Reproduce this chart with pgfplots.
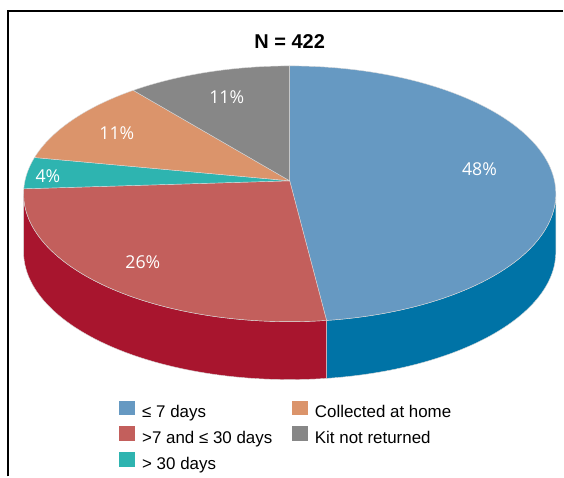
\documentclass[border=0pt]{standalone}
\usepackage{pgfplots}
\pgfplotsset{compat=1.18}
\usepackage{fontspec}
\setmainfont{Liberation Sans}
\newfontfamily\labelfont{Open Sans}
\definecolor{cBlue}{RGB}{102,153,194}
\definecolor{cBlueSide}{RGB}{0,115,166}
\definecolor{cRed}{RGB}{195,95,92}
\definecolor{cRedSide}{RGB}{168,21,46}
\definecolor{cTeal}{RGB}{46,180,176}
\definecolor{cOrange}{RGB}{219,148,107}
\definecolor{cGray}{RGB}{135,135,135}
% perspective map: pie angle (deg, clockwise from back) -> parametric angle on the drawn ellipse
\newcommand\mapT[2]{%
  \pgfmathsetmacro\pU{sin(#1)}%
  \pgfmathsetmacro\pV{cos(#1)}%
  \pgfmathsetmacro\pD{1+0.1016*\pV}%
  \pgfmathsetmacro\pX{265*\pU/\pD}%
  \pgfmathsetmacro\pY{-126.7*\pV/\pD}%
  \pgfmathsetmacro#2{atan2((13-\pY)/128,\pX/266.4)}%
}
\gdef\pieTop{}\gdef\pieSide{}\gdef\cumul{0}
\foreach \val/\col/\scol in {48/cBlue/cBlueSide,26/cRed/cRedSide,4/cTeal/cTeal,11/cOrange/cOrange,11/cGray/cGray}{%
  \pgfmathsetmacro\thA{\cumul*3.6}%
  \pgfmathsetmacro\thB{(\cumul+\val)*3.6}%
  \pgfmathsetmacro\newcumul{\cumul+\val}%
  \xdef\cumul{\newcumul}%
  \mapT{\thA}{\tA}%
  \mapT{\thB}{\tBr}%
  \pgfmathsetmacro\tB{\tBr>\tA ? \tBr-360 : \tBr}%
  \pgfmathsetmacro\xA{290+266.4*cos(\tA)}%
  \pgfmathsetmacro\yA{-194+128*sin(\tA)}%
  \xdef\pieTop{\unexpanded\expandafter{\pieTop}%
    \noexpand\fill[\col,draw=white!85!black,line width=0.3pt,line join=round] (axis cs:290,-181) -- (axis cs:\xA,\yA) arc[start angle=\tA,end angle=\tB,x radius=199.8pt,y radius=96pt] -- cycle;}%
  \pgfmathsetmacro\lo{max(\tB,-180)}%
  \pgfmathsetmacro\hi{min(\tA,0)}%
  \ifdim\lo pt<\hi pt
    \pgfmathsetmacro\xH{290+266.4*cos(\hi)}%
    \pgfmathsetmacro\yH{-194+128*sin(\hi)}%
    \pgfmathsetmacro\xL{290+266.4*cos(\lo)}%
    \pgfmathsetmacro\yL{-252+128*sin(\lo)}%
    \xdef\pieSide{\unexpanded\expandafter{\pieSide}%
      \noexpand\fill[\scol,draw=white!85!black,line width=0.3pt] (axis cs:\xH,\yH) arc[start angle=\hi,end angle=\lo,x radius=199.8pt,y radius=96pt] -- (axis cs:\xL,\yL) arc[start angle=\lo,end angle=\hi,x radius=199.8pt,y radius=96pt] -- cycle;}%
  \fi
}
\begin{document}
\begin{tikzpicture}
\begin{axis}[
  x=0.75pt, y=0.75pt,
  xmin=0, xmax=564, ymin=-477, ymax=0,
  axis lines=none, clip=false,
  legend columns=2,
  legend cell align=left,
  legend style={draw=none, fill=none, inner sep=0pt, outer sep=0pt,
     at={(axis cs:119,-401)}, anchor=north west,
     font=\fontsize{12.7}{14}\selectfont, row sep=3.4pt,
     nodes={inner sep=0pt, text height=9.5pt, text depth=3pt},
     /tikz/every odd column/.append style={column sep=5.5pt},
     /tikz/every even column/.append style={column sep=14.5pt}},
  legend image code/.code={\fill[#1,draw=none] (0pt,-1.3pt) rectangle (12pt,9.8pt);},
]
\path (axis cs:0,-477) rectangle (axis cs:564,0);
\draw[line width=0.9pt] (axis cs:8,-477) -- (axis cs:8,-11) -- (axis cs:564,-11);
\pieSide
\pieTop
\node[font=\bfseries\fontsize{15}{18}\selectfont] at (axis cs:290,-42) {N = 422};
\node[font=\labelfont\fontsize{13.3}{15}\selectfont, text=white] at (axis cs:480,-169) {48\%};
\node[font=\labelfont\fontsize{13.3}{15}\selectfont, text=white] at (axis cs:143,-262) {26\%};
\node[font=\labelfont\fontsize{13.3}{15}\selectfont, text=white] at (axis cs:48,-176) {4\%};
\node[font=\labelfont\fontsize{13.3}{15}\selectfont, text=white] at (axis cs:117,-133) {11\%};
\node[font=\labelfont\fontsize{13.3}{15}\selectfont, text=white] at (axis cs:227,-97) {11\%};
\addlegendimage{fill=cBlue}\addlegendentry{≤ 7 days}
\addlegendimage{fill=cOrange}\addlegendentry{Collected at home}
\addlegendimage{fill=cRed}\addlegendentry{>7 and ≤ 30 days}
\addlegendimage{fill=cGray}\addlegendentry{Kit not returned}
\addlegendimage{fill=cTeal}\addlegendentry{> 30 days}
\end{axis}
\end{tikzpicture}
\end{document}
